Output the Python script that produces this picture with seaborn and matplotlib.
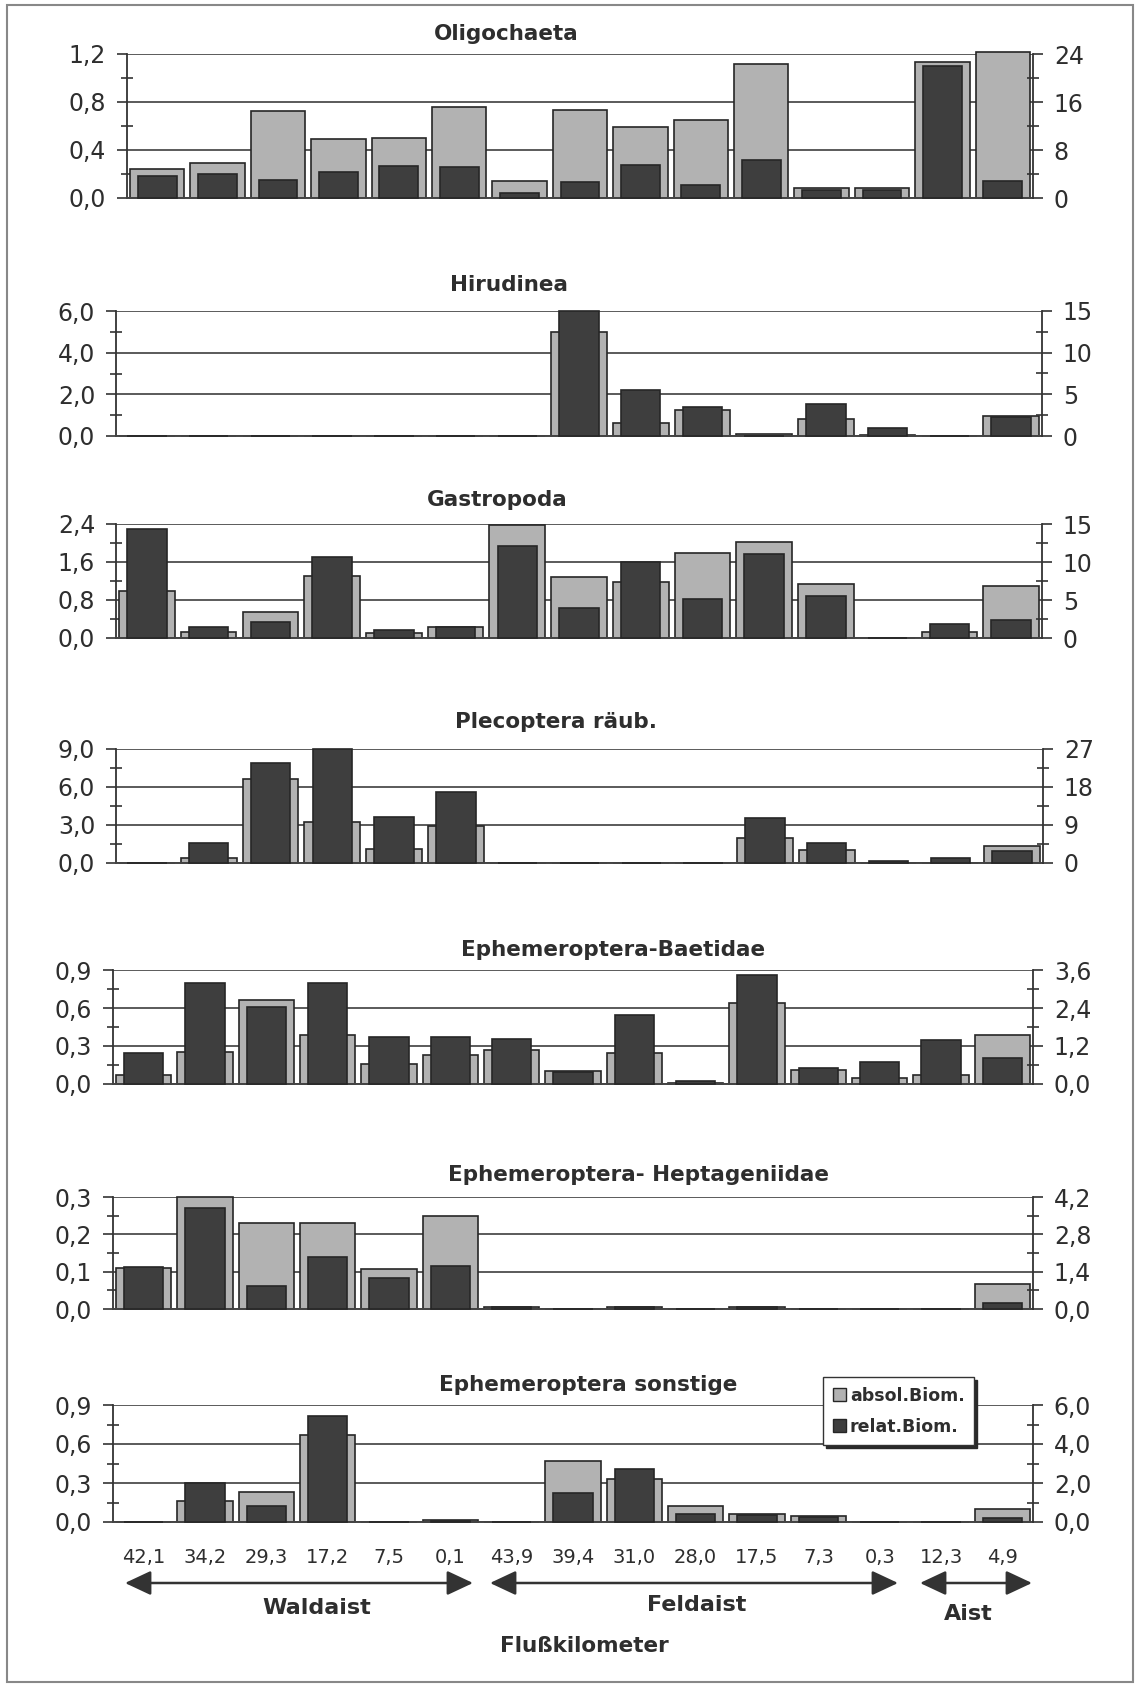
import matplotlib
matplotlib.use("Agg")
import matplotlib.pyplot as plt
import seaborn as sns
from matplotlib.patches import Patch, FancyArrowPatch, Rectangle
from matplotlib.ticker import FixedLocator, FuncFormatter

sns.set_style("white")
plt.rcParams['font.family'] = ['DejaVu Sans']

# ---------------- data ----------------
km_labels = ["42,1", "34,2", "29,3", "17,2", "7,5", "0,1",
             "43,9", "39,4", "31,0", "28,0", "17,5", "7,3", "0,3",
             "12,3", "4,9"]
river_names = ["Waldaist", "Feldaist", "Aist"]
legend_labels = ["absol.Biom.", "relat.Biom."]

oligo_abs = [0.24, 0.29, 0.725, 0.49, 0.50, 0.755, 0.14, 0.73, 0.59, 0.65, 1.12, 0.085, 0.085, 1.13, 1.22]
oligo_rel = [3.7, 4.0, 3.0, 4.4, 5.4, 5.1, 0.9, 2.7, 5.5, 2.2, 6.4, 1.3, 1.3, 22.0, 2.9]

hirud_abs = [0, 0, 0, 0, 0, 0, 0, 5.0, 0.62, 1.23, 0.08, 0.82, 0.05, 0, 0.98]
hirud_rel = [0, 0, 0, 0, 0, 0, 0, 15.0, 5.5, 3.5, 0, 3.8, 1.0, 0, 2.3]

gastro_abs = [0.98, 0.12, 0.55, 1.31, 0.10, 0.23, 2.37, 1.28, 1.18, 1.80, 2.03, 1.14, 0, 0.12, 1.10]
gastro_rel = [14.3, 1.5, 2.1, 10.7, 1.1, 1.4, 12.1, 4.0, 10.0, 5.1, 11.0, 5.5, 0, 1.9, 2.4]

pleco_abs = [0, 0.39, 6.6, 3.25, 1.08, 2.9, 0, 0, 0, 0, 1.94, 1.0, 0.03, 0.02, 1.34]
pleco_rel = [0, 4.8, 23.8, 27.0, 10.8, 16.9, 0, 0, 0, 0, 10.6, 4.8, 0.4, 1.2, 2.8]

baet_abs = [0.075, 0.25, 0.66, 0.39, 0.155, 0.23, 0.27, 0.105, 0.245, 0.005, 0.64, 0.11, 0.05, 0.075, 0.39]
baet_rel = [0.99, 3.18, 2.44, 3.2, 1.5, 1.47, 1.43, 0.39, 2.19, 0.1, 3.44, 0.49, 0.70, 1.38, 0.83]

hept_abs = [0.11, 0.30, 0.23, 0.23, 0.108, 0.25, 0.005, 0, 0.005, 0, 0.005, 0, 0, 0, 0.067]
hept_rel = [1.58, 3.8, 0.88, 1.95, 1.15, 1.6, 0.08, 0, 0.08, 0, 0.08, 0, 0, 0, 0.22]

sonst_abs = [0, 0.16, 0.23, 0.67, 0, 0.015, 0, 0.47, 0.33, 0.12, 0.06, 0.045, 0, 0, 0.10]
sonst_rel = [0, 2.0, 0.84, 5.46, 0, 0.05, 0, 1.48, 2.74, 0.42, 0.34, 0.24, 0, 0, 0.2]

titles = ["Oligochaeta", "Hirudinea", "Gastropoda", "Plecoptera räub.",
          "Ephemeroptera-Baetidae", "Ephemeroptera- Heptageniidae",
          "Ephemeroptera sonstige"]
abs_series = [oligo_abs, hirud_abs, gastro_abs, pleco_abs, baet_abs, hept_abs, sonst_abs]
rel_series = [oligo_rel, hirud_rel, gastro_rel, pleco_rel, baet_rel, hept_rel, sonst_rel]
left_ticks = [[0, 0.4, 0.8, 1.2], [0, 2, 4, 6], [0, 0.8, 1.6, 2.4], [0, 3, 6, 9],
              [0, 0.3, 0.6, 0.9], [0, 0.1, 0.2, 0.3], [0, 0.3, 0.6, 0.9]]
right_ticks = [[0, 8, 16, 24], [0, 5, 10, 15], [0, 5, 10, 15], [0, 9, 18, 27],
               [0, 1.2, 2.4, 3.6], [0, 1.4, 2.8, 4.2], [0, 2, 4, 6]]
right_decimals = [0, 0, 0, 0, 1, 1, 1]

# ---------------- layout (pixels) ----------------
W, H = 1136, 1686
panel_px = [  # left, right, top, bottom
    (127, 1033, 54, 198),
    (116, 1042, 311, 436),
    (116, 1042, 524, 638),
    (116, 1043, 749, 863),
    (113, 1033, 970, 1084),
    (113, 1033, 1197, 1309),
    (113, 1033, 1405, 1522),
]
title_px = [(506, 34), (509, 285), (497, 500), (556, 722), (613, 950), (639, 1175), (588, 1385)]

LIGHT = "#b2b2b2"
DARK = "#3e3e3e"
EDGE = "#262626"
GRID = "#5a5a5a"
TXT = "#2e2e2e"

fig = plt.figure(figsize=(W / 100, H / 100), dpi=100)
fig.patch.set_facecolor("white")


def fx(x):
    return x / W


def fy(y):
    return 1 - y / H


def comma_fmt(dec):
    return FuncFormatter(lambda v, p: (f"{v:.{dec}f}").replace(".", ","))


for i in range(7):
    L, R, T, B = panel_px[i]
    ax = fig.add_axes([fx(L), fy(B), (R - L) / W, (B - T) / H])
    sns.barplot(x=km_labels, y=abs_series[i], order=km_labels, color=LIGHT, saturation=1,
                width=0.9, edgecolor=EDGE, linewidth=1.2, errorbar=None, ax=ax)
    ax.set_ylim(0, left_ticks[i][-1])
    ax2 = ax.twinx()
    sns.barplot(x=km_labels, y=rel_series[i], order=km_labels, color=DARK, saturation=1,
                width=0.64, edgecolor=EDGE, linewidth=1.2, errorbar=None, ax=ax2)
    ax2.set_ylim(0, right_ticks[i][-1])
    ax.set_xlim(-0.5, 14.5)

    for p in list(ax.patches) + list(ax2.patches):
        p.set_clip_on(False)

    ax.set_xlabel("")
    ax.set_ylabel("")
    ax2.set_ylabel("")
    ax2.set_xlabel("")

    lt = left_ticks[i]
    rt = right_ticks[i]
    ax.yaxis.set_major_locator(FixedLocator(lt))
    ax.yaxis.set_minor_locator(FixedLocator([(a + b) / 2 for a, b in zip(lt[:-1], lt[1:])]))
    ax.yaxis.set_major_formatter(comma_fmt(1))
    ax2.yaxis.set_major_locator(FixedLocator(rt))
    ax2.yaxis.set_minor_locator(FixedLocator([(a + b) / 2 for a, b in zip(rt[:-1], rt[1:])]))
    ax2.yaxis.set_major_formatter(comma_fmt(right_decimals[i]))

    ax.tick_params(axis="y", which="major", left=True, direction="out", length=7, width=1.2,
                   color="#333333", labelsize=17, labelcolor=TXT, pad=8)
    ax.tick_params(axis="y", which="minor", left=True, direction="inout", length=9, width=1.2,
                   color="#333333")
    ax2.tick_params(axis="y", which="major", right=True, left=False, direction="out", length=7,
                    width=1.2, color="#333333", labelsize=17, labelcolor=TXT, pad=8)
    ax2.tick_params(axis="y", which="minor", right=True, left=False, direction="inout", length=9,
                    width=1.2, color="#333333")

    ax.yaxis.grid(True, which="major", color=GRID, linewidth=1.4)
    ax.xaxis.grid(False)
    ax.set_axisbelow(True)

    for s in ["top"]:
        ax.spines[s].set_visible(False)
        ax2.spines[s].set_visible(False)
    ax2.spines["left"].set_visible(False)
    ax2.spines["bottom"].set_visible(False)
    ax.spines["right"].set_visible(False)
    ax.spines["left"].set_color("#333333")
    ax.spines["left"].set_linewidth(1.3)
    ax2.spines["right"].set_color("#333333")
    ax2.spines["right"].set_linewidth(1.3)
    ax.spines["bottom"].set_color("#444444")
    ax.spines["bottom"].set_linewidth(1.4)

    if i < 6:
        ax.tick_params(axis="x", bottom=False, labelbottom=False)
    else:
        ax.tick_params(axis="x", bottom=False, labelbottom=True, labelsize=14,
                       labelcolor=TXT, pad=15)

    tx, ty = title_px[i]
    fig.text(fx(tx), fy(ty), titles[i], ha="center", va="center", fontsize=15.5,
             fontweight="bold", color=TXT)

# legend
handles = [Patch(facecolor=LIGHT, edgecolor=EDGE, label=legend_labels[0]),
           Patch(facecolor=DARK, edgecolor=EDGE, label=legend_labels[1])]
leg = fig.legend(handles=handles, loc="upper left", bbox_to_anchor=(fx(823), fy(1377)),
                 frameon=True, fancybox=False, edgecolor="#333333", framealpha=1,
                 shadow={"color": "#2a2a2a", "alpha": 1},
                 prop=dict(weight="bold", size=12.5), handlelength=0.75, handleheight=0.75,
                 handletextpad=0.25, borderpad=0.55, labelspacing=0.75, borderaxespad=0)
for t in leg.get_texts():
    t.set_color(TXT)

# river section arrows and labels
arrow_px = [(125, 473), (490, 898), (920, 1032)]
label_px = [(317, 1608), (697, 1605), (968, 1614)]
for (x0, x1), (lx, ly), name in zip(arrow_px, label_px, river_names):
    arr = FancyArrowPatch((fx(x0), fy(1583)), (fx(x1), fy(1583)), transform=fig.transFigure,
                          arrowstyle="<|-|>,head_length=1.6,head_width=0.75", mutation_scale=10,
                          color="#333333", linewidth=1.8, shrinkA=0, shrinkB=0)
    fig.add_artist(arr)
    fig.text(fx(lx), fy(ly), name, ha="center", va="center", fontsize=16,
             fontweight="bold", color=TXT)

fig.text(fx(584), fy(1646), "Flußkilometer", ha="center", va="center", fontsize=15.5,
         fontweight="bold", color=TXT)

# outer frame
fig.add_artist(Rectangle((fx(7), fy(1682)), (1133 - 7) / W, (1682 - 5) / H,
                         transform=fig.transFigure, fill=False, edgecolor="#888888", linewidth=1.5))

fig.savefig("out.png", dpi=100, facecolor="white")
